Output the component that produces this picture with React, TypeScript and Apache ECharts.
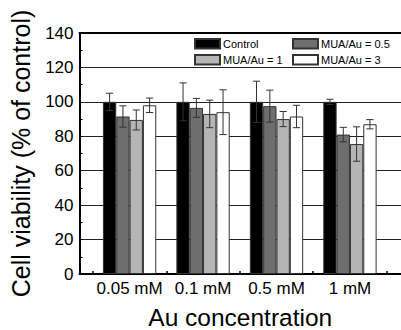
import React, { useEffect, useRef } from "react";
import * as echarts from "echarts";

const categories = ["0.05 mM", "0.1 mM", "0.5 mM", "1 mM"];
const seriesNames = ["Control", "MUA/Au = 0.5", "MUA/Au = 1", "MUA/Au = 3"];
const controlValues = [100, 100, 100, 100];
const controlErrors = [5, 11, 12, 1.5];
const mua05Values = [91.5, 96.5, 97.5, 81];
const mua05Errors = [6.2, 5.5, 9.3, 4.2];
const mua1Values = [89.5, 93, 90, 75.5];
const mua1Errors = [5.8, 8, 4.4, 10];
const mua3Values = [98, 94, 91.5, 87];
const mua3Errors = [4.2, 13, 6.5, 2.7];
const yTicks = [0, 20, 40, 60, 80, 100, 120, 140];

const allValues = [controlValues, mua05Values, mua1Values, mua3Values];
const allErrors = [controlErrors, mua05Errors, mua1Errors, mua3Errors];
const colors = ["#000000", "#6e6e6e", "#b5b5b5", "#ffffff"];
const BAR_W = 13.33;
const FONT = "'Liberation Sans', Arial, sans-serif";

export default function App() {
  const ref = useRef<HTMLDivElement>(null);
  useEffect(() => {
    if (!ref.current) return;
    const chart = echarts.init(ref.current, null, { renderer: "svg" });
    const positions = categories.map((_, i) => i + 1);
    const xMin = 0.318;
    const xMax = 4.695;

    const barSeries = seriesNames.map((name, s) => ({
      name,
      type: "bar",
      xAxisIndex: 0,
      barWidth: BAR_W,
      barGap: "0%",
      itemStyle: { color: colors[s], borderColor: "#333", borderWidth: 1 },
      data: positions.map((p, i) => [p, allValues[s][i]]),
      z: 2,
    }));

    const errSeries = seriesNames.map((name, s) => ({
      name: name + " err",
      type: "custom",
      xAxisIndex: 0,
      z: 5,
      silent: true,
      data: positions.map((p, i) => [p, allValues[s][i], allErrors[s][i]]),
      renderItem: (params: any, api: any) => {
        const x = api.value(0);
        const v = api.value(1);
        const e = api.value(2);
        const off = (s - 1.5) * BAR_W;
        const top = api.coord([x, v + e]);
        const bot = api.coord([x, v - e]);
        const cx = top[0] + off;
        const hw = 3.6;
        const st = { stroke: "#333", lineWidth: 1 };
        return {
          type: "group",
          children: [
            { type: "line", shape: { x1: cx, y1: top[1], x2: cx, y2: bot[1] }, style: st },
            { type: "line", shape: { x1: cx - hw, y1: top[1], x2: cx + hw, y2: top[1] }, style: st },
            { type: "line", shape: { x1: cx - hw, y1: bot[1], x2: cx + hw, y2: bot[1] }, style: st },
          ],
        };
      },
    }));

    chart.setOption({
      animation: false,
      backgroundColor: "#fff",
      textStyle: { fontFamily: FONT, color: "#000" },
      grid: { left: 79.5, right: 0, top: 33, bottom: 56, containLabel: false, outerBoundsMode: "none" },
      legend: [
        {
          data: [seriesNames[0], seriesNames[2]],
          orient: "vertical",
          left: 194,
          top: 38,
          padding: 0,
          itemWidth: 25,
          itemHeight: 9.4,
          itemGap: 4.6,
          icon: "rect",
          textStyle: { fontSize: 11, fontFamily: FONT, color: "#000", padding: [0, 0, 0, -2] },
        },
        {
          data: [seriesNames[1], seriesNames[3]],
          orient: "vertical",
          left: 292,
          top: 38,
          padding: 0,
          itemWidth: 25,
          itemHeight: 9.4,
          itemGap: 4.6,
          icon: "rect",
          textStyle: { fontSize: 11, fontFamily: FONT, color: "#000", padding: [0, 0, 0, -2] },
        },
      ],
      xAxis: [
        {
          type: "value",
          min: xMin,
          max: xMax,
          position: "bottom",
          name: "Au concentration",
          nameLocation: "middle",
          nameGap: 31.5,
          nameTextStyle: { fontSize: 24.5, fontFamily: FONT, color: "#000", lineHeight: 24.5 },
          axisLine: { show: true, onZero: false, lineStyle: { color: "#000", width: 2 } },
          axisTick: {
            show: true,
            inside: true,
            length: 3,
            customValues: [0.5, 1.5, 2.5, 3.5, 4.5],
            lineStyle: { color: "#000", width: 1.5 },
          },
          axisLabel: {
            show: true,
            customValues: positions,
            formatter: (v: number) => categories[Math.round(v) - 1] ?? "",
            fontSize: 17,
            fontFamily: FONT,
            color: "#000",
            margin: 6,
          },
          splitLine: { show: false },
        },
        {
          type: "value",
          min: xMin,
          max: xMax,
          position: "top",
          axisLine: { show: true, onZero: false, lineStyle: { color: "#000", width: 2 } },
          axisTick: { show: false },
          axisLabel: { show: false },
          splitLine: { show: false },
        },
      ],
      yAxis: {
        type: "value",
        min: 0,
        max: 140,
        interval: 20,
        name: "Cell viability (% of control)",
        nameLocation: "middle",
        nameGap: 46,
        nameTextStyle: { fontSize: 25, fontFamily: FONT, color: "#000" },
        axisLine: { show: true, lineStyle: { color: "#000", width: 2 } },
        axisTick: { show: true, inside: true, length: 3, lineStyle: { color: "#000" } },
        minorTick: { show: true, splitNumber: 2, length: 3, lineStyle: { color: "#000" } },
        axisLabel: {
          fontSize: 17,
          fontFamily: FONT,
          color: "#000",
          margin: 6,
          customValues: yTicks,
        },
        splitLine: { show: true, lineStyle: { color: "#222", width: 1 } },
      },
      series: [...barSeries, ...errSeries],
    });
    return () => chart.dispose();
  }, []);
  return (
    <div
      ref={ref}
      style={{ position: "absolute", left: 0, top: 0, width: 401, height: 330, overflow: "hidden" }}
    />
  );
}
